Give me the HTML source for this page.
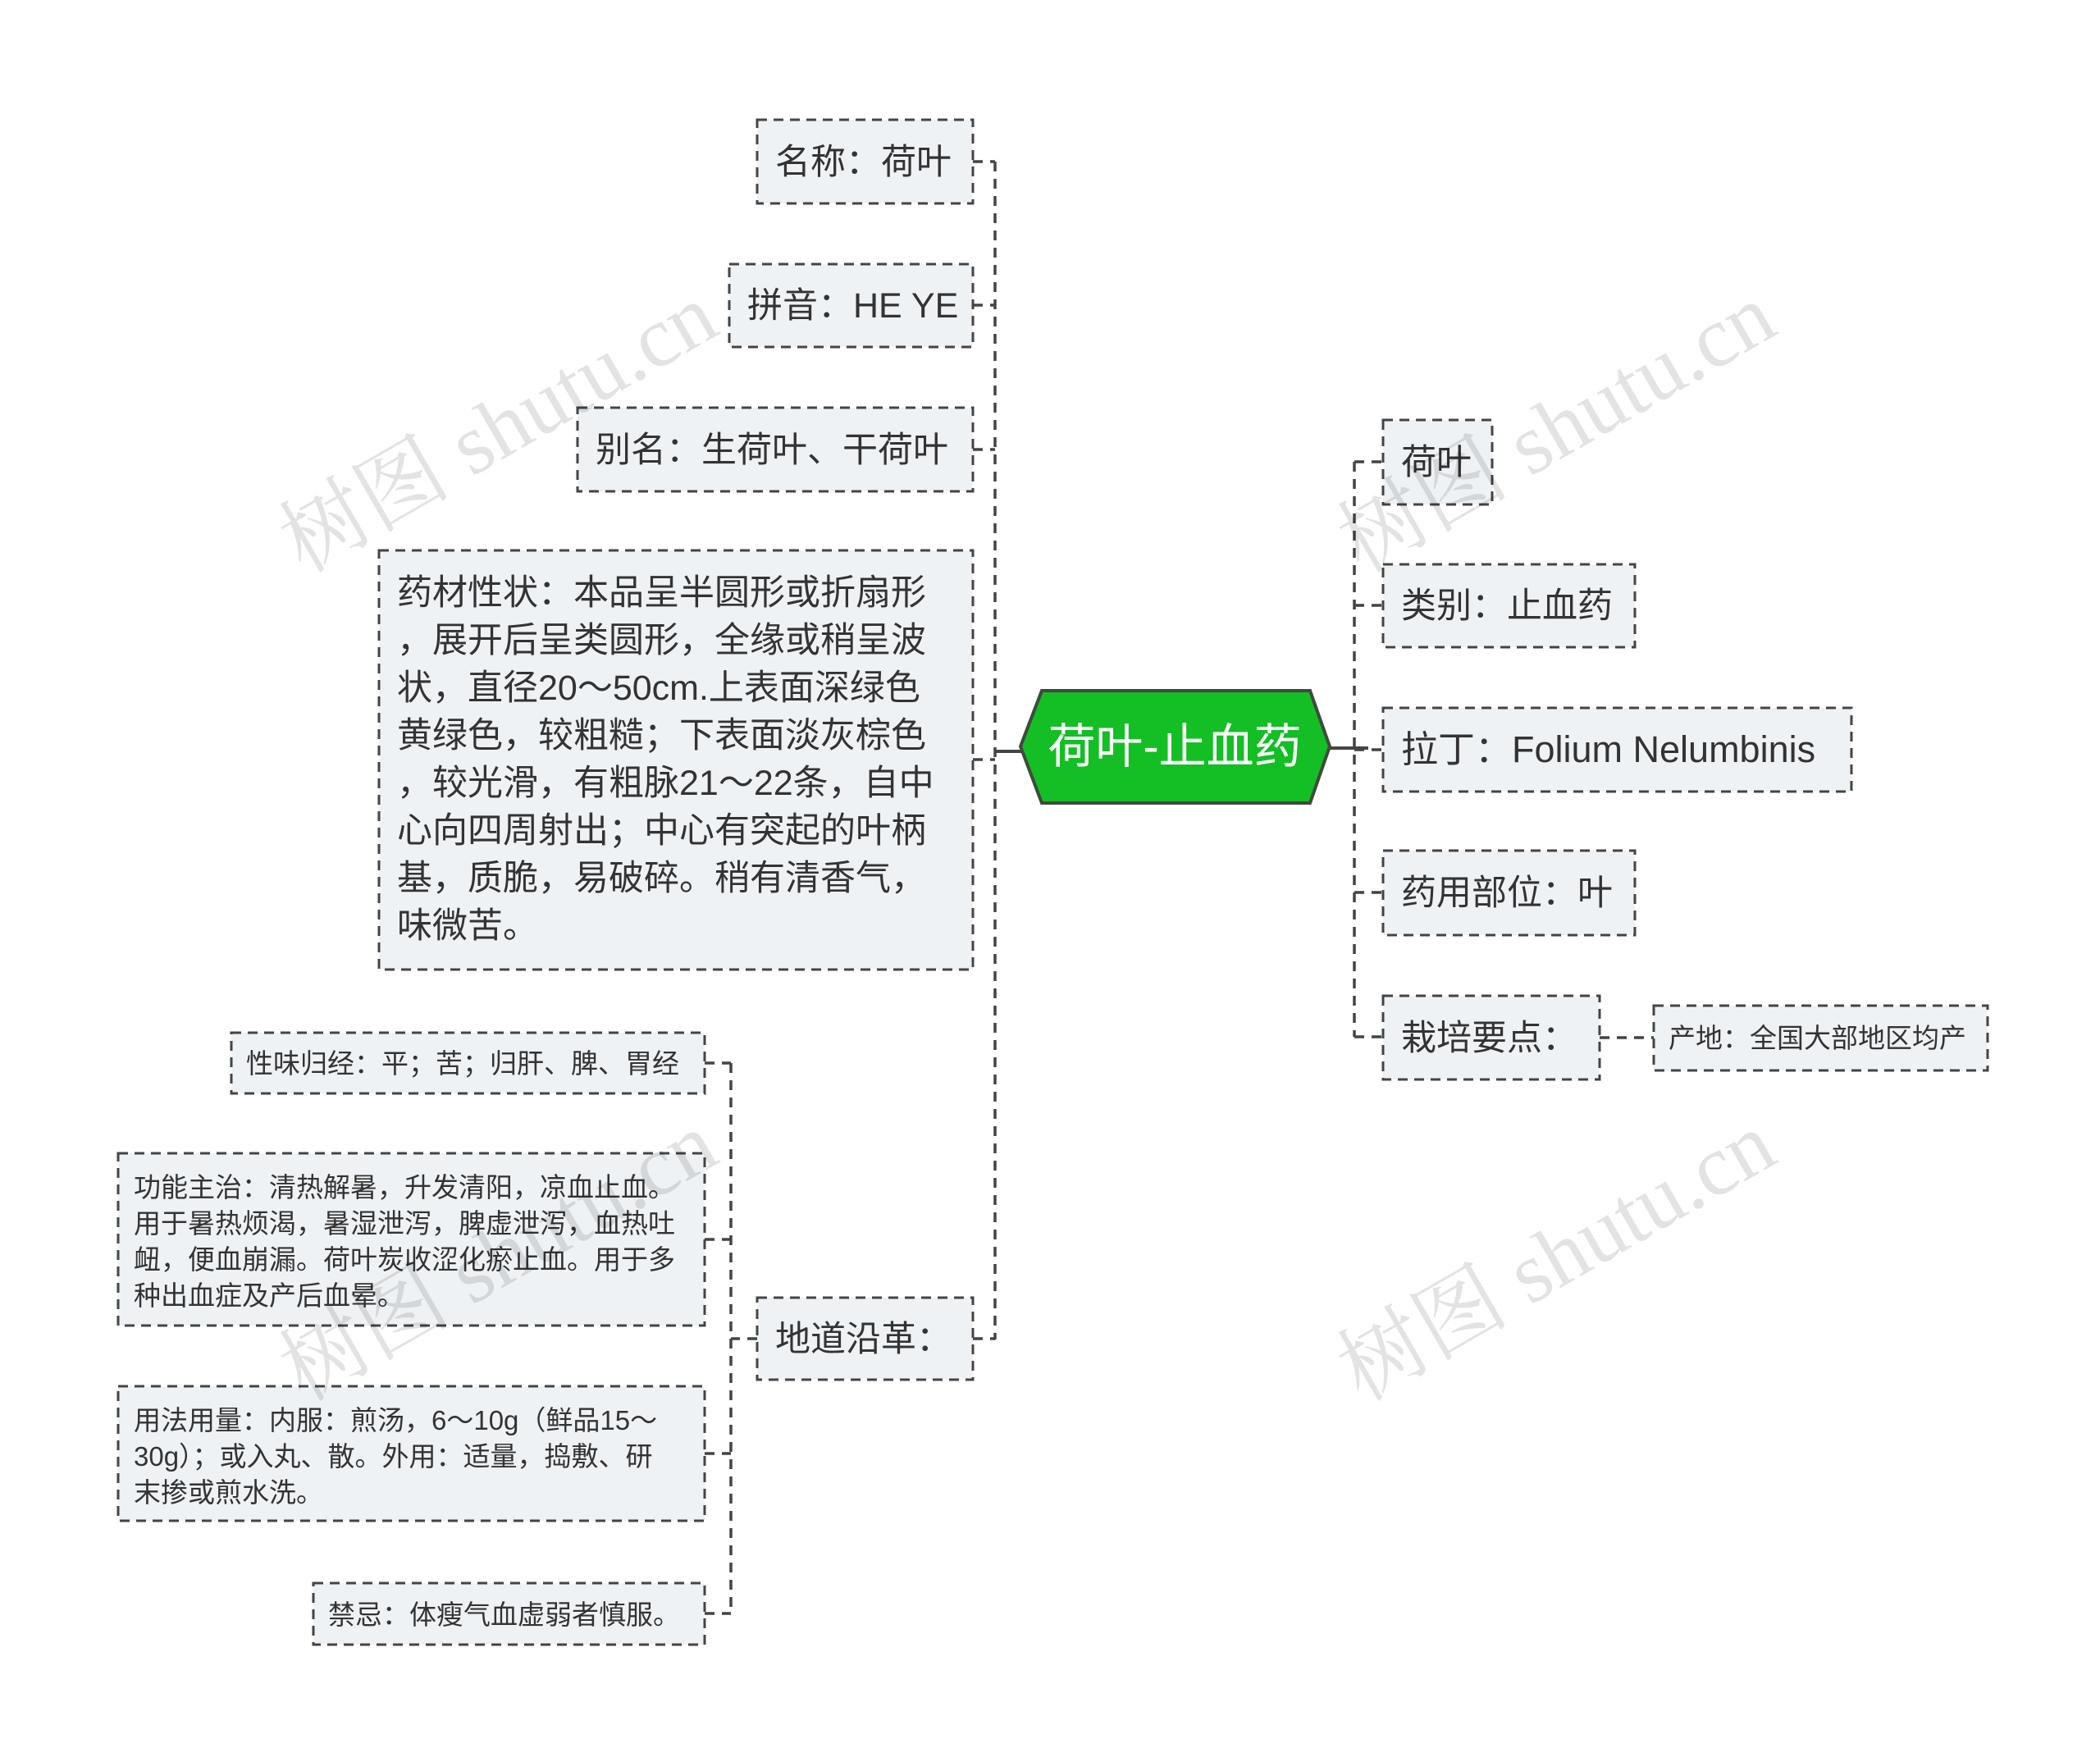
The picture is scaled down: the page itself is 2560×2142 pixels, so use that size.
<!DOCTYPE html>
<html><head><meta charset="utf-8"><style>
html,body{margin:0;padding:0;background:#fff}
svg{display:block}
text{font-family:"Liberation Sans","Noto Sans CJK SC",sans-serif;fill:#333}
.b{fill:#eff2f5;stroke:#444;stroke-width:3;stroke-dasharray:12 8}
.l{fill:none;stroke:#444;stroke-width:3.5;stroke-dasharray:12 9}
.t{font-size:43px}
.s{font-size:33px}
.w{font-family:"Liberation Serif","Noto Serif CJK SC",serif;font-size:105px;fill:#000;fill-opacity:0.11}
</style></head><body>
<svg width="2560" height="2142" viewBox="0 0 2560 2142" xmlns="http://www.w3.org/2000/svg">
<path class="l" d="M1213 197 V1633"/>
<path d="M1213 916 H1246" stroke="#444" stroke-width="4"/>
<path class="l" d="M1186 197 H1213 M1186 372 H1213 M1186 548 H1213 M1186 926 H1213 M1186 1632 H1213"/>
<path class="l" d="M891 1296 V1964 M923 1632 H891 M859 1296 H891 M859 1511 H891 M859 1772 H891 M859 1967 H891"/>
<path class="l" d="M1651 563 V1264"/>
<path d="M1621 912 H1668" stroke="#444" stroke-width="4"/>
<path class="l" d="M1651 563 H1686 M1651 738 H1686 M1651 914 H1686 M1651 1088 H1686 M1651 1264 H1686 M1950 1265 H2016"/>

<polygon points="1244,910 1270,842 1597,842 1621,910 1597,979 1270,979" fill="#13bf24" stroke="#3e4a3e" stroke-width="4"/>
<text x="1432" y="930" text-anchor="middle" style="font-size:58px;fill:#fff">荷叶-止血药</text>

<rect class="b" x="923" y="146" width="263" height="102"/>
<text class="t" x="945" y="212">名称：荷叶</text>
<rect class="b" x="889" y="322" width="297" height="101"/>
<text class="t" x="911" y="387">拼音：HE YE</text>
<rect class="b" x="704" y="497" width="482" height="102"/>
<text class="t" x="726" y="563">别名：生荷叶、干荷叶</text>
<rect class="b" x="462" y="671" width="724" height="511"/>
<text class="t" x="484" y="737">药材性状：本品呈半圆形或折扇形</text>
<text class="t" x="484" y="795">，展开后呈类圆形，全缘或稍呈波</text>
<text class="t" x="484" y="853">状，直径20～50cm.上表面深绿色</text>
<text class="t" x="484" y="911">黄绿色，较粗糙；下表面淡灰棕色</text>
<text class="t" x="484" y="969">，较光滑，有粗脉21～22条，自中</text>
<text class="t" x="484" y="1027">心向四周射出；中心有突起的叶柄</text>
<text class="t" x="484" y="1085">基，质脆，易破碎。稍有清香气，</text>
<text class="t" x="484" y="1143">味微苦。</text>
<rect class="b" x="923" y="1582" width="263" height="100"/>
<text class="t" x="945" y="1647">地道沿革：</text>

<rect class="b" x="282" y="1259" width="577" height="74"/>
<text class="s" x="300" y="1308">性味归经：平；苦；归肝、脾、胃经</text>
<rect class="b" x="144" y="1406" width="715" height="210"/>
<text class="s" x="163" y="1459">功能主治：清热解暑，升发清阳，凉血止血。</text>
<text class="s" x="163" y="1503">用于暑热烦渴，暑湿泄泻，脾虚泄泻，血热吐</text>
<text class="s" x="163" y="1547">衄，便血崩漏。荷叶炭收涩化瘀止血。用于多</text>
<text class="s" x="163" y="1591">种出血症及产后血晕。</text>
<rect class="b" x="144" y="1690" width="715" height="164"/>
<text class="s" x="163" y="1743">用法用量：内服：煎汤，6～10g（鲜品15～</text>
<text class="s" x="163" y="1787">30g）；或入丸、散。外用：适量，捣敷、研</text>
<text class="s" x="163" y="1831">末掺或煎水洗。</text>
<rect class="b" x="382" y="1930" width="477" height="75"/>
<text class="s" x="400" y="1980">禁忌：体瘦气血虚弱者慎服。</text>

<rect class="b" x="1686" y="512" width="133" height="103"/>
<text class="t" x="1708" y="578">荷叶</text>
<rect class="b" x="1686" y="688" width="307" height="101"/>
<text class="t" x="1708" y="753">类别：止血药</text>
<rect class="b" x="1686" y="863" width="571" height="102"/>
<text class="t" x="1708" y="929" style="font-size:45px">拉丁：Folium Nelumbinis</text>
<rect class="b" x="1686" y="1037" width="307" height="103"/>
<text class="t" x="1708" y="1103">药用部位：叶</text>
<rect class="b" x="1686" y="1214" width="264" height="102"/>
<text class="t" x="1708" y="1280">栽培要点：</text>
<rect class="b" x="2016" y="1226" width="407" height="79"/>
<text class="s" x="2034" y="1277">产地：全国大部地区均产</text>

<text class="w" transform="translate(370,700) rotate(-30)">树图 shutu.cn</text>
<text class="w" transform="translate(1660,700) rotate(-30)">树图 shutu.cn</text>
<text class="w" transform="translate(370,1710) rotate(-30)">树图 shutu.cn</text>
<text class="w" transform="translate(1660,1710) rotate(-30)">树图 shutu.cn</text>
</svg>
</body></html>
